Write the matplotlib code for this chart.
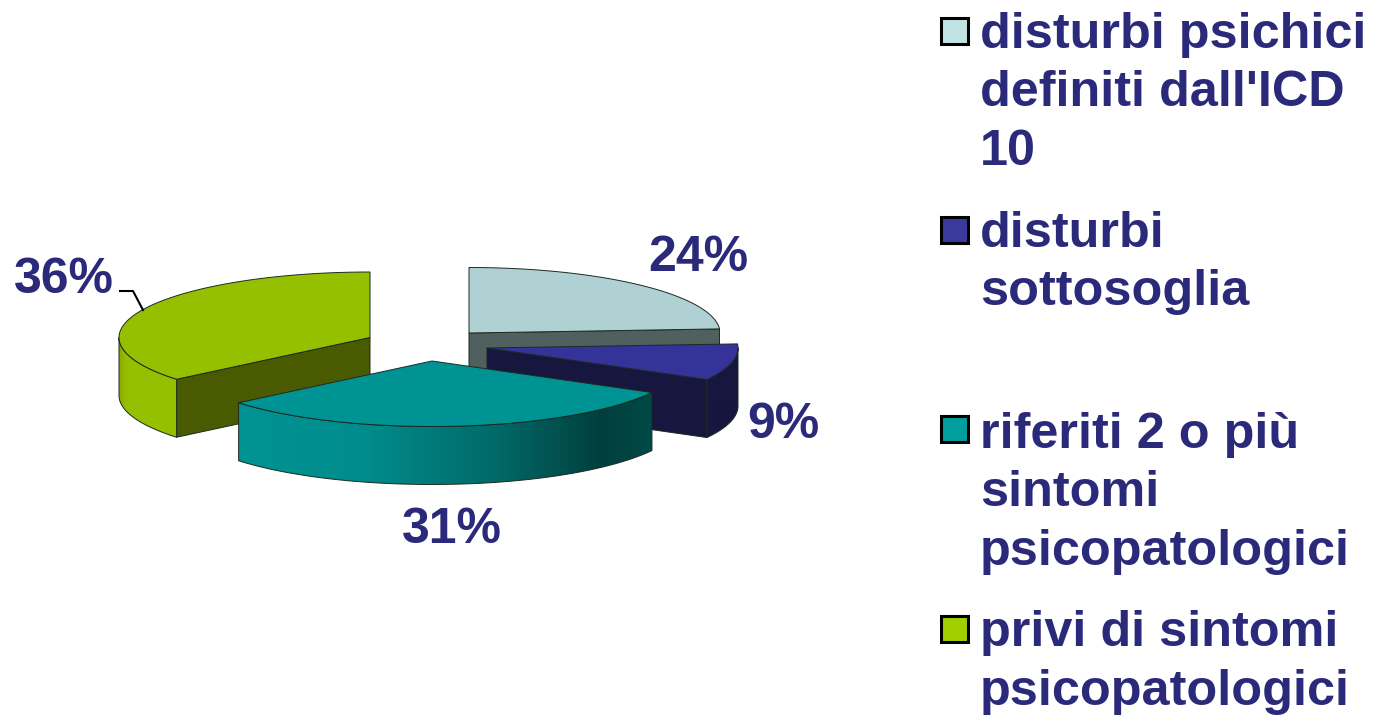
import numpy as np
import matplotlib
matplotlib.use("Agg")
import matplotlib.pyplot as plt
from matplotlib.colors import LinearSegmentedColormap
from matplotlib.patches import Polygon, Rectangle

plt.rcParams['font.family'] = ['Liberation Sans', 'DejaVu Sans']

# data
values = [24, 9, 31, 36]
pct_labels = ['24%', '9%', '31%', '36%']
legend_labels = ["disturbi psichici\ndefiniti dall'ICD\n10",
                 "disturbi\nsottosoglia",
                 "riferiti 2 o più\nsintomi\npsicopatologici",
                 "privi di sintomi\npsicopatologici"]

# style
top_colors = ['#b0d1d3', '#333399', '#009393', '#95c000']
face_colors = ['#50605f', '#17163f', '#004a47', '#4a5a00']
side_stops = [[(0, '#50605f'), (1, '#50605f')],
              [(0, '#17163f'), (1, '#17163f')],
              [(0, '#009393'), (0.3, '#008c8c'), (0.62, '#006a68'), (0.88, '#003f3d'), (1, '#004a47')],
              [(0, '#8aa800'), (0.12, '#95c000'), (1, '#95c000')]]
swatch_colors = ['#c0e4e4', '#3a3a9c', '#009e9e', '#a0d000']
apexes = [(469, 333), (487, 348), (432, 361), (370, 337.5)]
draw_order = [0, 3, 1, 2]
text_color = '#2b2a7a'
RX, RY, DEPTH = 251, 65.5, 58

label_pos = [(698, 258), (783, 425), (452, 530), (64, 280)]
swatch_y = [30.5, 230, 429, 629]
legend_base = [47.7, 246.7, 447.7, 646.5]
LINE_STEP = 58.6


def rim(apex, a0, a1, n=120):
    t = np.radians(np.linspace(a0, a1, n))
    return np.column_stack([apex[0] + RX * np.sin(t), apex[1] - RY * np.cos(t)])


fig = plt.figure(figsize=(13.73, 7.15), dpi=100)
ax = fig.add_axes([0, 0, 1, 1])
ax.set_xlim(0, 1373)
ax.set_ylim(715, 0)
ax.axis('off')

bounds = np.concatenate([[0], np.cumsum(values)]) / np.sum(values) * 360
z = 2
for i in draw_order:
    a0, a1 = bounds[i], bounds[i + 1]
    apex = apexes[i]
    down = np.array([0, DEPTH])
    edge_kw = dict(edgecolor='#1c2a20', linewidth=0.7, joinstyle='round')

    # cut faces, only when they look towards the viewer
    for ang, normal in ((a0, a0 - 90), (a1, a1 + 90)):
        if np.cos(np.radians(normal)) < -1e-6:
            p = rim(apex, ang, ang, 1)[0]
            quad = np.array([apex, p, p + down, np.array(apex) + down])
            ax.add_patch(Polygon(quad, facecolor=face_colors[i], zorder=z, **edge_kw))
            z += 1

    # outer wall, lower half of the rim
    lo, hi = max(a0, 90), min(a1, 270)
    if hi > lo:
        r = rim(apex, lo, hi)
        wall = np.vstack([r, (r + down)[::-1]])
        cmap = LinearSegmentedColormap.from_list('side%d' % i, side_stops[i])
        x0, x1 = wall[:, 0].min(), wall[:, 0].max()
        im = ax.imshow(np.linspace(0, 1, 256).reshape(1, -1), cmap=cmap, aspect='auto',
                       extent=(x0, x1, wall[:, 1].max(), wall[:, 1].min()), zorder=z)
        outline = Polygon(wall, facecolor='none', zorder=z + 1, **edge_kw)
        ax.add_patch(outline)
        im.set_clip_path(outline)
        z += 2

    # top
    top = np.vstack([[apex], rim(apex, a0, a1), [apex]])
    ax.add_patch(Polygon(top, facecolor=top_colors[i], zorder=z, **edge_kw))
    z += 1

ax.set_xlim(0, 1373)
ax.set_ylim(715, 0)

for lab, (x, y) in zip(pct_labels, label_pos):
    ax.text(x, y, lab, color=text_color, fontsize=36, fontweight='bold',
            ha='center', va='center', zorder=50)

# leader line of the 36% label
ax.plot([120, 133, 143], [291, 291, 310], color='black', lw=1.5, zorder=50)

for lab, col, sy, base in zip(legend_labels, swatch_colors, swatch_y, legend_base):
    ax.add_patch(Rectangle((941, sy - 13), 27, 26, facecolor=col, edgecolor='black',
                           linewidth=2.2, zorder=50))
    for k, line in enumerate(lab.split('\n')):
        ax.text(980, base + k * LINE_STEP, line, color=text_color, fontsize=36.3,
                fontweight='bold', ha='left', va='baseline', zorder=50)

fig.savefig('out.png', dpi=100)
